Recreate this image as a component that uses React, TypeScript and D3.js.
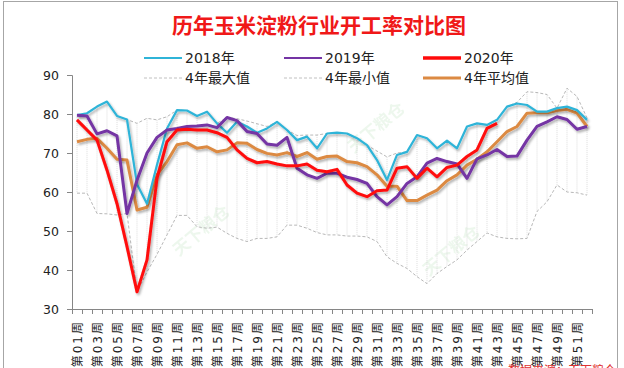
import { useEffect, useRef } from "react";
import * as d3 from "d3";

// weekly operating rate of corn starch industry (%)
const weeks = d3.range(1, 53).map((w) => `第${String(w).padStart(2, "0")}周`);

const y2018 = [
  79.7, 80.2, 81.9, 83.2, 79.5, 78.6, 62, 57, 67, 76.3, 81, 80.9, 79.5, 80.6,
  77.6, 75.2, 78, 76.8, 75.2, 76.3, 78, 75.9, 73.3, 74.2, 71.2, 75, 75.2, 75,
  73.8, 72, 68.2, 63.1, 69.5, 70.3, 74.6, 73.8, 71.2, 73.2, 71.2, 76.8, 77.6,
  77.2, 78.5, 81.9, 82.7, 82.3, 80.6, 80.6, 81.5, 81.9, 81, 78.5,
];
const y2019 = [
  79.7, 79.5, 74.9, 75.7, 74.4, 54.5, 63, 70, 74, 75.9, 76.3, 76.8, 76.9, 77.2,
  76.5, 79.1, 78.3, 75.5, 75, 72.3, 72, 74, 66.1, 64.4, 63.5, 64.8, 64.8, 63.8,
  63.2, 62.2, 58.8, 56.7, 58.8, 62.2, 63.9, 67.4, 68.6, 67.8, 67.2, 63.5, 68.5,
  69.5, 70.9, 69.1, 69.2, 73.3, 76.8, 78, 79.3, 78.6, 76.1, 76.8,
];
const y2020 = [
  78.5, 75.9, 73.3, 65.6, 57, 46, 34.4, 42.6, 63.5, 72.9, 75.9, 76.1, 75.9,
  75.9, 75.2, 74, 70.8, 68.6, 67.5, 67.8, 67.2, 66.7, 66.7, 67.2, 65.6, 65.2,
  65.8, 61.8, 59.7, 58.8, 60.3, 60.5, 66.1, 66.5, 63.5, 66.1, 63.9, 66.3, 66.9,
  69.1, 70.8, 76.3, 77.6,
];
const maxVals = [
  79.7, 80.2, 81.9, 83.2, 79.5, 78.6, 77.6, 78.9, 78.5, 79.3, 81, 80.9, 79.5,
  80.6, 77.6, 79.1, 78.8, 78.2, 77.5, 76.8, 78, 75.9, 74.5, 74.6, 74.6, 75,
  75.2, 75, 73.8, 72, 70.5, 69, 70, 70.3, 74.6, 73.8, 71.2, 73.2, 71.2, 76.8,
  77.6, 77.2, 78.5, 81.9, 83, 85.7, 85.5, 85, 81.5, 86.6, 84.5, 79,
];
const minVals = [
  59.7, 59.7, 54.5, 54.4, 54.1, 54.5, 34.4, 39.5, 44, 49, 54, 54, 51.1, 50.7,
  51, 49.4, 48.1, 47.3, 48.1, 48.1, 48.5, 51.5, 51.5, 50.7, 49.6, 49, 49, 48.7,
  48.7, 48.5, 47.3, 43.4, 41.7, 40.4, 38.3, 36.5, 39.1, 40.9, 42.6, 45.1, 47.3,
  49.5, 48.5, 48.1, 48, 48.1, 55, 57.5, 61.8, 60, 59.8, 59.2,
];
const avgVals = [
  72.9, 73.5, 73.8, 71.2, 68.4, 68.2, 55.4, 56.1, 64.4, 67.8, 72.1, 72.6, 71.2,
  71.6, 70.3, 70.8, 72.6, 72.5, 70.9, 69.9, 69.5, 70.1, 69.1, 70.1, 68.4, 69.1,
  69.2, 67.8, 67.5, 66.5, 64.4, 61.5, 61.5, 57.8, 57.8, 59.2, 60.5, 62.9, 64.4,
  66.9, 68.4, 70.3, 72.9, 75.5, 76.8, 80.2, 80.3, 80.3, 80.9, 81.2, 80.2, 76.8,
];
const yTicks = [30, 40, 50, 60, 70, 80, 90];

const FONT = '"DejaVu Sans", "Noto Sans CJK SC", sans-serif';

function App() {
  const svgRef = useRef<SVGSVGElement | null>(null);
  const width = 624;
  const height = 368;
  const left = 72;
  const right = 592;
  const top = 75;
  const bottom = 309;

  useEffect(() => {
    const svg = d3.select(svgRef.current);
    svg.selectAll("*").remove();

    const x = d3.scaleBand<string>().domain(weeks).range([left, right]);
    const xEdge = d3.scaleLinear().domain([0, 52]).range([left, right]);
    const y = d3.scaleLinear().domain([30, 90]).range([bottom, top]);
    const cx = (i: number) => (x(weeks[i]) as number) + x.bandwidth() / 2;

    const defs = svg.append("defs");
    const filter = defs
      .append("filter")
      .attr("id", "shadow")
      .attr("x", "-10%")
      .attr("y", "-10%")
      .attr("width", "120%")
      .attr("height", "130%");
    filter
      .append("feDropShadow")
      .attr("dx", 1.5)
      .attr("dy", 2)
      .attr("stdDeviation", 1.2)
      .attr("flood-color", "#000")
      .attr("flood-opacity", 0.3);

    // frame
    svg
      .append("rect")
      .attr("x", 3.5)
      .attr("y", 1.5)
      .attr("width", 614)
      .attr("height", 380)
      .attr("fill", "white")
      .attr("stroke", "#a6a6a6");

    // title
    svg
      .append("text")
      .attr("x", 319)
      .attr("y", 33)
      .attr("text-anchor", "middle")
      .attr("font-family", FONT)
      .attr("font-size", 21)
      .attr("font-weight", "bold")
      .attr("fill", "#f01818")
      .text("历年玉米淀粉行业开工率对比图");

    // watermarks
    const marks = [
      [205, 235],
      [380, 132],
      [455, 255],
    ];
    marks.forEach(([mx, my]) => {
      svg
        .append("text")
        .attr("transform", `translate(${mx},${my}) rotate(-40)`)
        .attr("text-anchor", "middle")
        .attr("font-family", FONT)
        .attr("font-size", 17)
        .attr("font-weight", "bold")
        .attr("fill", "#a8d8a8")
        .attr("opacity", 0.2)
        .text("天下粮仓");
    });

    // hi-lo lines
    svg
      .append("g")
      .selectAll("line")
      .data(weeks)
      .join("line")
      .attr("x1", (_, i) => cx(i))
      .attr("x2", (_, i) => cx(i))
      .attr("y1", (_, i) => y(maxVals[i]))
      .attr("y2", (_, i) => y(minVals[i]))
      .attr("stroke", "#d4d4d4")
      .attr("stroke-width", 0.8)
      .attr("stroke-dasharray", "1,1");

    const line = d3
      .line<number>()
      .x((_, i) => cx(i))
      .y((d) => y(d));

    const dashed = [maxVals, minVals];
    dashed.forEach((data) => {
      svg
        .append("path")
        .attr("d", line(data) as string)
        .attr("fill", "none")
        .attr("stroke", "#b8b8b8")
        .attr("stroke-width", 1)
        .attr("stroke-dasharray", "3,2");
    });

    const series = [
      { data: avgVals, color: "#dc8a43", w: 3 },
      { data: y2018, color: "#2fb4d8", w: 2.2 },
      { data: y2019, color: "#7434a4", w: 3 },
      { data: y2020, color: "#ff0a0a", w: 3 },
    ];
    series.forEach((s) => {
      svg
        .append("path")
        .attr("d", line(s.data) as string)
        .attr("fill", "none")
        .attr("stroke", s.color)
        .attr("stroke-width", s.w)
        .attr("stroke-linejoin", "round")
        .attr("filter", "url(#shadow)");
    });

    // y axis
    const yAxis = svg
      .append("g")
      .attr("transform", `translate(${left},0)`)
      .call(d3.axisLeft(y).tickValues(yTicks).tickSize(5).tickPadding(8));
    yAxis.select(".domain").attr("stroke", "#868686");
    yAxis.selectAll(".tick line").attr("stroke", "#868686");
    yAxis
      .selectAll(".tick text")
      .attr("font-family", FONT)
      .attr("font-size", 12.5)
      .attr("fill", "#222");

    // x axis: ticks between categories
    const xTickAxis = svg
      .append("g")
      .attr("transform", `translate(0,${bottom})`)
      .call(
        d3
          .axisBottom(xEdge)
          .tickValues(d3.range(53))
          .tickSize(5)
          .tickSizeOuter(0)
          .tickFormat(() => "")
      );
    xTickAxis.select(".domain").attr("stroke", "#868686");
    xTickAxis.selectAll(".tick line").attr("stroke", "#868686");

    svg
      .append("g")
      .selectAll("text")
      .data(weeks.filter((_, i) => i % 2 === 0))
      .join("text")
      .attr(
        "transform",
        (d) => `translate(${(x(d) as number) + x.bandwidth() / 2 + 1},320) rotate(-90)`
      )
      .attr("text-anchor", "end")
      .attr("dy", "0.35em")
      .attr("font-family", FONT)
      .attr("font-size", 12)
      .attr("letter-spacing", 2)
      .attr("fill", "#222")
      .text((d) => d);

    // legend
    const legend = [
      { label: "2018年", color: "#2fb4d8", w: 2, dash: "", lx: 144, ly: 58 },
      { label: "2019年", color: "#7434a4", w: 2, dash: "", lx: 284, ly: 58 },
      { label: "2020年", color: "#ff0a0a", w: 3.5, dash: "", lx: 423, ly: 58 },
      { label: "4年最大值", color: "#c0c0c0", w: 1, dash: "3,2", lx: 144, ly: 78 },
      { label: "4年最小值", color: "#c0c0c0", w: 1, dash: "3,2", lx: 284, ly: 78 },
      { label: "4年平均值", color: "#dc8a43", w: 3, dash: "", lx: 423, ly: 78 },
    ];
    legend.forEach((l) => {
      svg
        .append("line")
        .attr("x1", l.lx)
        .attr("x2", l.lx + 38)
        .attr("y1", l.ly)
        .attr("y2", l.ly)
        .attr("stroke", l.color)
        .attr("stroke-width", l.w)
        .attr("stroke-dasharray", l.dash || null);
      svg
        .append("text")
        .attr("x", l.lx + 41)
        .attr("y", l.ly + 5)
        .attr("font-family", FONT)
        .attr("font-size", 14)
        .attr("fill", "#222")
        .text(l.label);
    });

    // source note, cut off by the image edge as in the original
    svg
      .append("text")
      .attr("x", 508)
      .attr("y", 375)
      .attr("font-family", FONT)
      .attr("font-size", 12)
      .attr("fill", "#e03030")
      .text("数据来源：天下粮仓");
  }, []);

  return (
    <svg
      ref={svgRef}
      width={width}
      height={height}
      style={{ position: "absolute", left: 0, top: 0, background: "white" }}
    ></svg>
  );
}

export default App;
